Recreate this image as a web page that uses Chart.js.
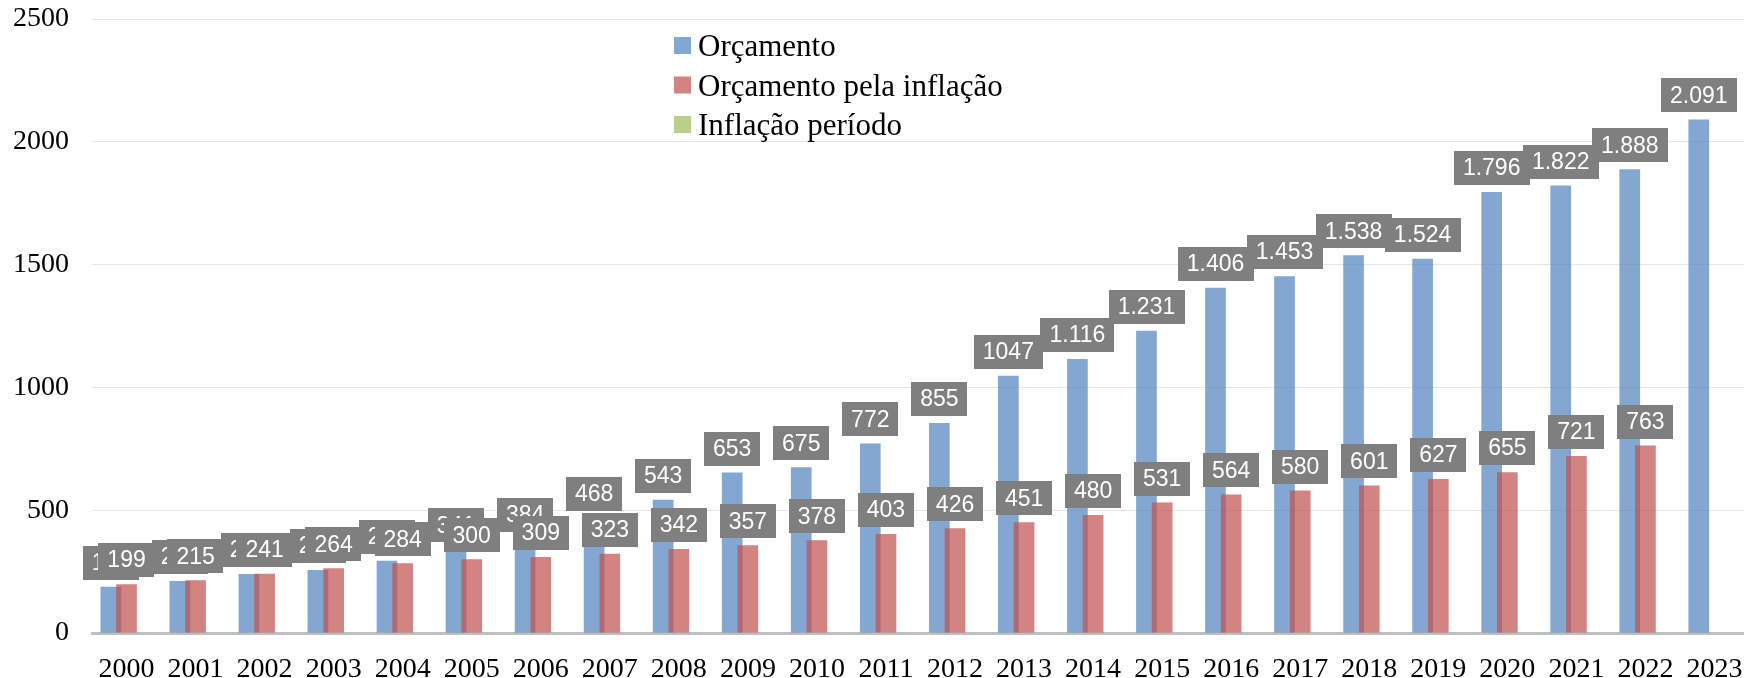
<!DOCTYPE html>
<html>
<head>
<meta charset="utf-8">
<script src="https://cdn.jsdelivr.net/npm/chart.js@4.4.1/dist/chart.umd.min.js"></script>
<style>
  html, body { margin: 0; padding: 0; background: #fff; overflow: hidden; }
  #wrap { position: absolute; left: 0; top: 0; width: 1750px; height: 682px; }
</style>
</head>
<body>
<div id="wrap"><canvas id="chart" width="1750" height="682"></canvas></div>
<script>
const anos = ['2000','2001','2002','2003','2004','2005','2006','2007','2008','2009','2010','2011',
              '2012','2013','2014','2015','2016','2017','2018','2019','2020','2021','2022','2023'];

const orcamento = [188, 212, 240, 257, 294, 341, 384, 468, 543, 653, 675, 772,
                   855, 1047, 1116, 1231, 1406, 1453, 1538, 1524, 1796, 1822, 1888, 2091];
const orcamentoRotulos = ['188','212','240','257','294','341','384','468','543','653','675','772',
                          '855','1047','1.116','1.231','1.406','1.453','1.538','1.524','1.796','1.822','1.888','2.091'];

const orcamentoInflacao = [199, 215, 241, 264, 284, 300, 309, 323, 342, 357, 378, 403,
                           426, 451, 480, 531, 564, 580, 601, 627, 655, 721, 763, null];

const inflacaoPeriodo = [null, null, null, null, null, null, null, null, null, null, null, null,
                         null, null, null, null, null, null, null, null, null, null, null, null];

const yMin = 0, yMax = 2500, yStep = 500;

const AZUL  = 'rgba(79,129,189,0.7)';
const VERM  = 'rgba(192,80,77,0.7)';
const VERDE = 'rgba(155,187,89,0.7)';

// red bars sit on top of the blue ones (Excel overlap)
const ordemBarras = {
    id: 'ordemBarras',
    beforeDatasetDraw(chart, args) {
        if (args.index === 0) return false;
        if (args.index === 1) chart.getDatasetMeta(0).controller.draw();
    }
};

const rotulos = {
    id: 'rotulos',
    afterDatasetsDraw(chart) {
        const ctx = chart.ctx;
        ctx.save();
        ctx.font = '23px "Liberation Sans", Arial, sans-serif';
        ctx.textAlign = 'center';
        ctx.textBaseline = 'middle';
        const textos = [orcamentoRotulos, orcamentoInflacao.map(v => v == null ? null : String(v))];
        [0, 1].forEach(di => {
            chart.getDatasetMeta(di).data.forEach((bar, i) => {
                const t = textos[di][i];
                if (t == null || !isFinite(bar.y)) return;
                const w = ctx.measureText(t).width + 18;
                const h = 34;
                const bottom = bar.y - 7;
                ctx.fillStyle = '#7f7f7f';
                ctx.fillRect(Math.round(bar.x - w / 2), Math.round(bottom - h), Math.round(w), h);
                ctx.fillStyle = '#ffffff';
                ctx.fillText(t, bar.x, bottom - h / 2 + 1);
            });
        });
        ctx.restore();
    }
};

const legenda = {
    id: 'legenda',
    afterDraw(chart) {
        const ctx = chart.ctx;
        ctx.save();
        ctx.font = '31px "Liberation Serif", "Times New Roman", serif';
        ctx.textBaseline = 'alphabetic';
        ctx.textAlign = 'left';
        chart.data.datasets.forEach((ds, i) => {
            const base = 56 + i * 39.5;
            ctx.fillStyle = ds.backgroundColor;
            ctx.fillRect(674, base - 19, 17, 17);
            ctx.fillStyle = '#000';
            ctx.fillText(ds.label, 698, base);
        });
        ctx.restore();
    }
};

const semSobra = s => { s.paddingTop = 0; s.paddingBottom = 0; s.paddingLeft = 0; s.paddingRight = 0; };

new Chart(document.getElementById('chart'), {
    type: 'bar',
    data: {
        labels: anos,
        datasets: [
            { label: 'Orçamento',               data: orcamento,         backgroundColor: AZUL },
            { label: 'Orçamento pela inflação', data: orcamentoInflacao, backgroundColor: VERM },
            { label: 'Inflação período',        data: inflacaoPeriodo,   backgroundColor: VERDE },
        ]
    },
    options: {
        responsive: false,
        animation: false,
        devicePixelRatio: 1,
        categoryPercentage: 0.682,
        barPercentage: 1.318,
        layout: { padding: { top: 19, right: 1, left: 0, bottom: 0 } },
        plugins: {
            legend: { display: false },
            tooltip: { enabled: false },
        },
        scales: {
            x: {
                afterFit: s => { semSobra(s); s.height = 49; },
                grid: { display: false, drawTicks: false },
                border: { display: true, color: '#bfbfbf', width: 3 },
                ticks: {
                    color: '#000',
                    padding: 20,
                    maxRotation: 0,
                    autoSkip: false,
                    font: { family: '"Liberation Serif", "Times New Roman", serif', size: 28 },
                },
            },
            y: {
                min: yMin,
                max: yMax,
                afterFit: s => { semSobra(s); s.width = 92; },
                grid: { color: '#e6e6e6', lineWidth: 1, drawTicks: false },
                border: { display: false },
                ticks: {
                    stepSize: yStep,
                    color: '#000',
                    padding: 23,
                    callback: v => String(v),
                    font: { family: '"Liberation Serif", "Times New Roman", serif', size: 28 },
                },
            },
        },
    },
    plugins: [ordemBarras, rotulos, legenda],
});
</script>
</body>
</html>
